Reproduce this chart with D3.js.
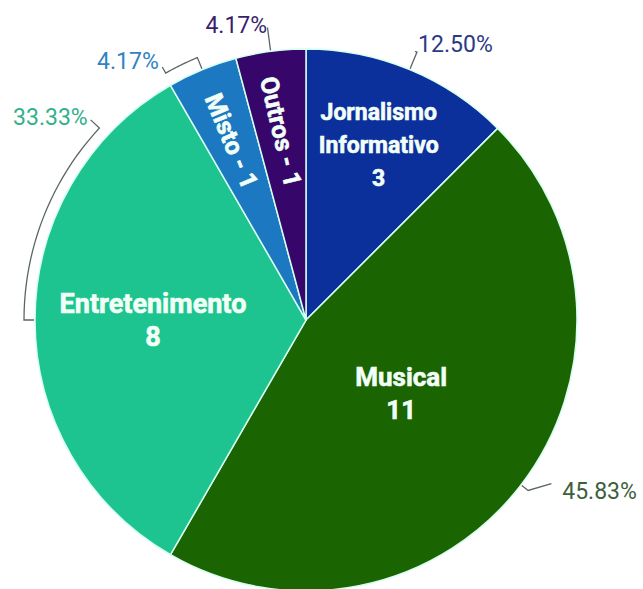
<!DOCTYPE html>
<html>
<head>
<meta charset="utf-8">
<script src="https://cdn.jsdelivr.net/npm/d3@7"></script>
<style>
  html, body { margin: 0; padding: 0; background: #ffffff; }
  svg { display: block; }
</style>
</head>
<body>
<svg id="chart" width="643" height="589"></svg>
<script>
// ---- data ----
const categories = ["Jornalismo Informativo", "Musical", "Entretenimento", "Misto", "Outros"];
const values = [3, 11, 8, 1, 1];

// ---- layout / style (kept separate from data) ----
const colors = ["#0b2f9b", "#1a6402", "#1ec48f", "#1c78c0", "#37066b"];
const pctColors = ["#2b3a87", "#3d5f3d", "#34b08a", "#2f83c3", "#3b1f6b"];
const labelLines = [["Jornalismo", "Informativo"], ["Musical"], ["Entretenimento"], ["Misto"], ["Outros"]];
const labelMode = ["stack", "stack", "stack", "rotate", "rotate"];
const labelRadius = [190, 120, 153, 194, 190];
const labelSize = [23, 26, 27, 25, 25];
const labelRotate = [0, 0, 0, 67.5, 77];
// percentage label placement: angle (deg, clockwise from top), radius
const pctAngle = [22.1, 123.7, 312.9, 330.4, 352.5];
const pctRadius = [298, 308, 298, 298, 298];
// leader: radius of the elbow / arc and end radius
const leaderElbowR = [290, 280, 282, 284, 295];
const leaderEndR = [290, 295, 294, 291, 295];
const leaderArc = [false, false, true, true, false];

const W = 643, H = 589;
const cx = 306, cy = 320, R = 271;

const svg = d3.select("#chart");
const g = svg.append("g").attr("transform", `translate(${cx},${cy})`);

const data = categories.map((c, i) => ({ name: c, value: values[i], i }));
const total = d3.sum(values);
const pie = d3.pie().value(d => d.value).sort(null).startAngle(0).endAngle(2 * Math.PI);
const arcs = pie(data);
const arc = d3.arc().innerRadius(0).outerRadius(R);
const fmt = d3.format(".2f");
const rad = deg => deg * Math.PI / 180;

// slices
g.selectAll("path.slice")
  .data(arcs)
  .join("path")
  .attr("class", "slice")
  .attr("d", arc)
  .attr("fill", d => colors[d.data.i])
  .attr("stroke", "#d6fff0")
  .attr("stroke-width", 1.5)
  .attr("stroke-linejoin", "round");

// inner labels
const point = (a, r) => [r * Math.sin(a), -r * Math.cos(a)];
arcs.forEach(d => {
  const i = d.data.i;
  const mid = (d.startAngle + d.endAngle) / 2;
  const [x, y] = point(mid, labelRadius[i]);
  const t = g.append("text")
    .attr("font-family", "Roboto, 'Noto Sans', sans-serif")
    .attr("font-weight", 700)
    .attr("font-size", labelSize[i])
    .attr("fill", "#f2fff6")
    .attr("stroke", "#f2fff6")
    .attr("stroke-width", 0.6)
    .attr("text-anchor", "middle");
  if (labelMode[i] === "stack") {
    const lines = labelLines[i].concat([String(d.data.value)]);
    const lh = 32.8;
    const y0 = y - (lines.length - 1) * lh / 2;
    t.attr("transform", `translate(${x},${y0})`);
    lines.forEach((ln, k) => {
      t.append("tspan").attr("x", 0).attr("y", k * lh).attr("dy", "0.36em").text(ln);
    });
  } else {
    t.attr("transform", `translate(${x},${y}) rotate(${labelRotate[i]})`)
      .attr("dy", "0.36em")
      .text(labelLines[i][0] + " - " + d.data.value);
  }
});

// leader lines
const radialLine = d3.lineRadial().angle(p => p[0]).radius(p => p[1]);
arcs.forEach(d => {
  const i = d.data.i;
  const mid = (d.startAngle + d.endAngle) / 2;
  const la = rad(pctAngle[i]);
  const pts = [[mid, R + 1], [mid, leaderElbowR[i]]];
  if (leaderArc[i]) {
    const n = 24;
    for (let k = 1; k <= n; k++) {
      pts.push([mid + (la - mid) * k / n, leaderElbowR[i]]);
    }
  }
  pts.push([la, leaderEndR[i]]);
  g.append("path")
    .attr("d", radialLine(pts))
    .attr("fill", "none")
    .attr("stroke", "#5b6566")
    .attr("stroke-width", 1.3);
});

// percentage labels
arcs.forEach(d => {
  const i = d.data.i;
  const la = rad(pctAngle[i]);
  const [x, y] = point(la, pctRadius[i]);
  g.append("text")
    .attr("x", x)
    .attr("y", y)
    .attr("dy", "0.36em")
    .attr("text-anchor", Math.sin(la) >= 0 ? "start" : "end")
    .attr("font-family", "Roboto, 'Noto Sans', sans-serif")
    .attr("font-size", 23)
    .attr("fill", pctColors[i])
    .text(fmt(d.data.value / total * 100) + "%");
});
</script>
</body>
</html>
